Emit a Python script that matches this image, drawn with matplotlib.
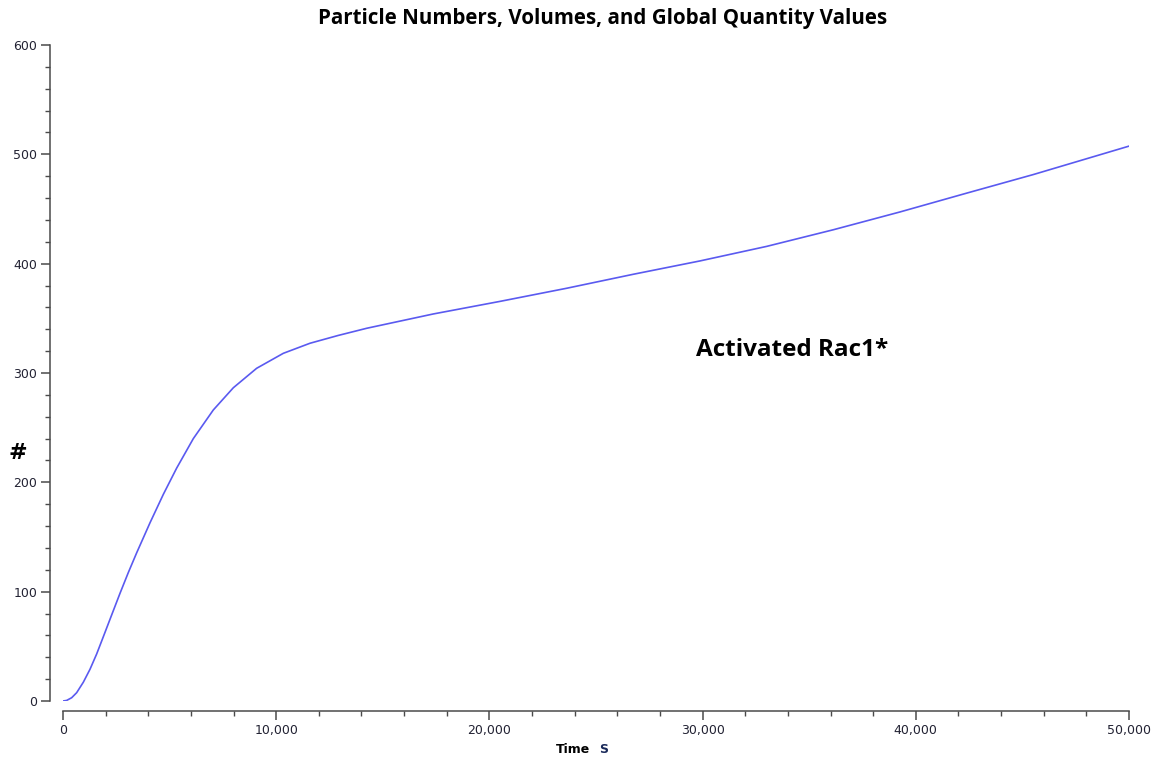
import numpy as np
import matplotlib.pyplot as plt
from matplotlib.ticker import MultipleLocator, FuncFormatter

# Activated Rac1* particle count
time_s = [0, 170, 407, 641, 954, 1266, 1579, 1892, 2283, 2674, 3064, 3455,
          4081, 4706, 5331, 6113, 7051, 7989, 9083, 10334, 11585, 12900,
          14245, 17370, 20497, 23625, 26750, 29878, 33005, 36130, 39259,
          42386, 45512, 50000]
rac1 = [0, 0.5, 3.0, 7.6, 17.2, 29.0, 43, 58.8, 78.7, 98.5, 117.5, 135.5,
        163, 189, 213, 240, 266.2, 286.5, 304.3, 318, 327.2, 334.3,
        340.9, 354, 365.5, 377.5, 390.3, 402.5, 415.8, 431, 447.3,
        464.5, 481.5, 507.5]

title = 'Particle Numbers, Volumes, and Global Quantity Values'
series_label = 'Activated Rac1*'

fig = plt.figure(figsize=(11.61, 7.58), dpi=100)
ax = fig.add_axes([0.05426, 0.07520, 0.91817, 0.86544])

ax.plot(time_s, rac1, color='#5a5af0', linewidth=1.2)

ax.set_xlim(0, 50000)
ax.set_ylim(0, 600)

for side in ['top', 'right']:
    ax.spines[side].set_visible(False)
ax.spines['left'].set_position(('outward', 9))
ax.spines['bottom'].set_position(('outward', 7))
for side in ['left', 'bottom']:
    ax.spines[side].set_color('#4a4a4a')
    ax.spines[side].set_linewidth(1.1)

ax.xaxis.set_major_locator(MultipleLocator(10000))
ax.xaxis.set_minor_locator(MultipleLocator(2000))
ax.yaxis.set_major_locator(MultipleLocator(100))
ax.yaxis.set_minor_locator(MultipleLocator(20))
ax.xaxis.set_major_formatter(FuncFormatter(lambda v, p: f'{int(v):,}'))

ax.tick_params(which='major', length=6.5, width=1.1, color='#4a4a4a',
               labelsize=9, labelcolor='#222233', pad=3.0)
ax.tick_params(which='minor', length=3.5, width=1.0, color='#4a4a4a')

fig.text(0.519, 0.975, title, ha='center', va='center',
         fontsize=14.8, fontweight='bold', family='Open Sans')

fig.text(0.0155, 0.403, '#', ha='center', va='center',
         fontsize=16, fontweight='bold')
fig.text(0.4935, 0.011, 'Time', ha='center', va='center',
         fontsize=9, fontweight='bold', color='black')
fig.text(0.520, 0.011, 'S', ha='center', va='center',
         fontsize=9, fontweight='bold', color='#1a2a5a')

ax.text(29690, 321, series_label, ha='left', va='center',
        fontsize=17.5, fontweight='bold', family='Open Sans')

fig.savefig('out.png', dpi=100)
